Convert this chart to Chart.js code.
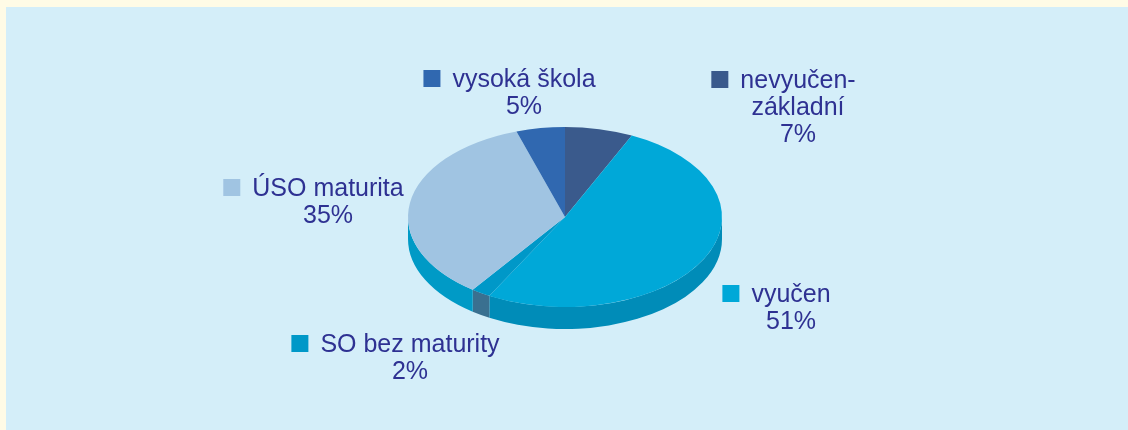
<!DOCTYPE html>
<html>
<head>
<meta charset="utf-8">
<script src="https://cdn.jsdelivr.net/npm/chart.js@4"></script>
<style>
  body { margin: 0; background: #fffbe6; }
  #panel { position: absolute; left: 6px; top: 7px; right: 0; bottom: 0; background: #d4eef9; }
  #graf { position: absolute; left: 0; top: 0; }
</style>
</head>
<body>
<div id="panel"></div>
<canvas id="graf" width="1128" height="430"></canvas>
<script>
// data
const kategorie = ['nevyučen-základní', 'vyučen', 'SO bez maturity', 'ÚSO maturita', 'vysoká škola'];
const popisky = [['nevyučen-', 'základní'], ['vyučen'], ['SO bez maturity'], ['ÚSO maturita'], ['vysoká škola']];
const podily = [7, 51, 2, 35, 5];

const barvy = ['#3a5a8c', '#00a8d8', '#0098c8', '#a0c4e2', '#3068b0'];
const barvyBoku = ['#2f4a74', '#008cb8', '#3a7090', '#009ac6', '#285a98'];
// where the labels sit (center of text block, first baseline)
const popiskyPoz = [[798, 88], [791, 302], [410, 352], [328, 196], [524, 87]];

const STRED_Y = 217;
const NAKLON = 90 / 157;
const HLOUBKA = 22;

const pie3d = {
    id: 'pie3d',
    beforeDatasetsDraw(chart) {
        const ctx = chart.ctx;
        const arcs = chart.getDatasetMeta(0).data;
        const cx = arcs[0].x, cy = arcs[0].y, r = arcs[0].outerRadius;
        const ry = r * NAKLON;
        // bok kolace
        arcs.forEach((arc, i) => {
            const s = Math.max(arc.startAngle, 0);
            const e = Math.min(arc.endAngle, Math.PI);
            if (e <= s) return;
            ctx.beginPath();
            ctx.ellipse(cx, STRED_Y, r, ry, 0, s, e);
            ctx.ellipse(cx, STRED_Y + HLOUBKA, r, ry, 0, e, s, true);
            ctx.closePath();
            ctx.fillStyle = barvyBoku[i];
            ctx.fill();
        });
        ctx.save();
        ctx.translate(cx, STRED_Y);
        ctx.scale(1, NAKLON);
        ctx.translate(-cx, -cy);
    },
    afterDatasetsDraw(chart) {
        chart.ctx.restore();
    },
    afterDraw(chart) {
        const ctx = chart.ctx;
        ctx.save();
        ctx.font = '25px "Liberation Sans", Arial, sans-serif';
        ctx.textAlign = 'center';
        ctx.textBaseline = 'alphabetic';
        popisky.forEach((radky, i) => {
            const [x, y] = popiskyPoz[i];
            const lines = radky.concat([podily[i] + '%']);
            ctx.fillStyle = '#2e3192';
            lines.forEach((t, j) => ctx.fillText(t, x, y + j * 27));
            const w = ctx.measureText(radky[0]).width;
            ctx.fillStyle = barvy[i];
            ctx.fillRect(x - w / 2 - 12 - 17, y - 17, 17, 17);
        });
        ctx.restore();
    }
};

new Chart(document.getElementById('graf'), {
    type: 'pie',
    data: {
        labels: kategorie,
        datasets: [{
            data: podily,
            backgroundColor: barvy,
            borderWidth: 0
        }]
    },
    options: {
        responsive: false,
        animation: false,
        layout: { padding: { left: 408, right: 406, top: 58, bottom: 58 } },
        plugins: {
            legend: { display: false },
            tooltip: { enabled: false }
        }
    },
    plugins: [pie3d]
});
</script>
</body>
</html>
